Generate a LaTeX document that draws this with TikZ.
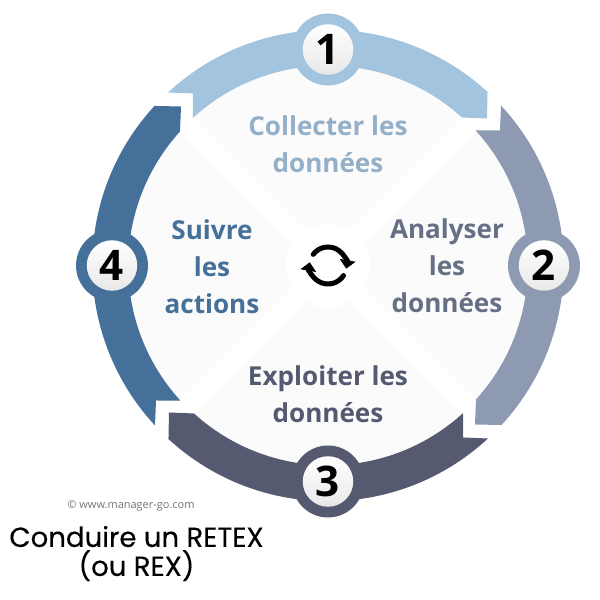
\documentclass[tikz,border=0pt]{standalone}
\usepackage{fontspec}
\setmainfont{Open Sans}
\newfontfamily\titlefont[FakeBold=0.25]{Poppins}
\usetikzlibrary{positioning, arrows.meta}
\definecolor{segone}{HTML}{A2C4DF}
\definecolor{segtwo}{HTML}{8D9AB2}
\definecolor{segthree}{HTML}{555A70}
\definecolor{segfour}{HTML}{44709A}
\definecolor{txtone}{HTML}{94AFC8}
\definecolor{txttwo}{HTML}{667085}
\definecolor{disc}{HTML}{FBFBFB}
\begin{document}
\begin{tikzpicture}[
  x=0.02cm, y=0.02cm,
  badge/.style={circle, minimum size=1.44cm, inner sep=0pt},
  ball/.style={circle, minimum size=1.01cm, inner sep=0pt, top color=white, middle color=white, bottom color=black!9, font=\fontsize{24}{24}\selectfont\bfseries},
  label/.style={align=center, font=\fontsize{14.85}{21}\selectfont\bfseries},
  turn/.style={line width=0.1cm, line cap=round, -{Triangle[length=0.17cm, width=0.31cm]}}
]
  \useasboundingbox (-328,-334.5) rectangle (272,265.5);
  \fill[disc] (0,0) circle[radius=205];
  \foreach \a in {45,135} {
    \draw[white, line width=0.4cm] (\a:235) -- (\a+180:235);
  }
  \foreach \i/\col in {0/segone, 1/segtwo, 2/segthree, 3/segfour} {
    \fill[\col, rotate=-90*\i] (-160,173) arc[start angle=132.8, end angle=47.4, radius=235.6]
      -- (159,147) -- (134,148) arc[start angle=47.8, end angle=132.4, radius=200]
      -- (-135,172) -- cycle;
  }
  \node[circle, fill=white, minimum size=1.68cm] (hub) at (0,0) {};
  \draw[turn] (143:18.5) arc[start angle=143, end angle=-10, radius=18.5];
  \draw[turn] (-33:18.5) arc[start angle=-33, end angle=-190, radius=18.5];

  \node[badge, fill=segone] (b1) at (0,216) {};
  \node[badge, fill=segtwo] (b2) at (216,0) {};
  \node[badge, fill=segthree] (b3) at (0,-216) {};
  \node[badge, fill=segfour] (b4) at (-216,0) {};
  \node[ball] (n1) at (b1) {1};
  \node[ball] (n2) at (b2) {2};
  \node[ball] (n3) at (b3) {3};
  \node[ball] (n4) at (b4) {4};

  \node[label, text=txtone] (collect) at (0,121) {Collecter les\\données};
  \node[label, text=txttwo] (analyse) at (119,0) {Analyser\\les\\données};
  \node[label, text=segthree] (exploit) at (0,-129) {Exploiter les\\données};
  \node[label, text=segfour] (follow) at (-116,-1) {Suivre\\les\\actions};

  \node[text=black!55, font=\fontsize{6.25}{6.25}\selectfont] (site) at (-197,-240.5) {© www.manager-go.com};
  \node[align=center, font=\fontsize{15.7}{16.5}\selectfont\titlefont] (title) at (-191.5,-288) {Conduire un RETEX\\(ou REX)};
\end{tikzpicture}
\end{document}
